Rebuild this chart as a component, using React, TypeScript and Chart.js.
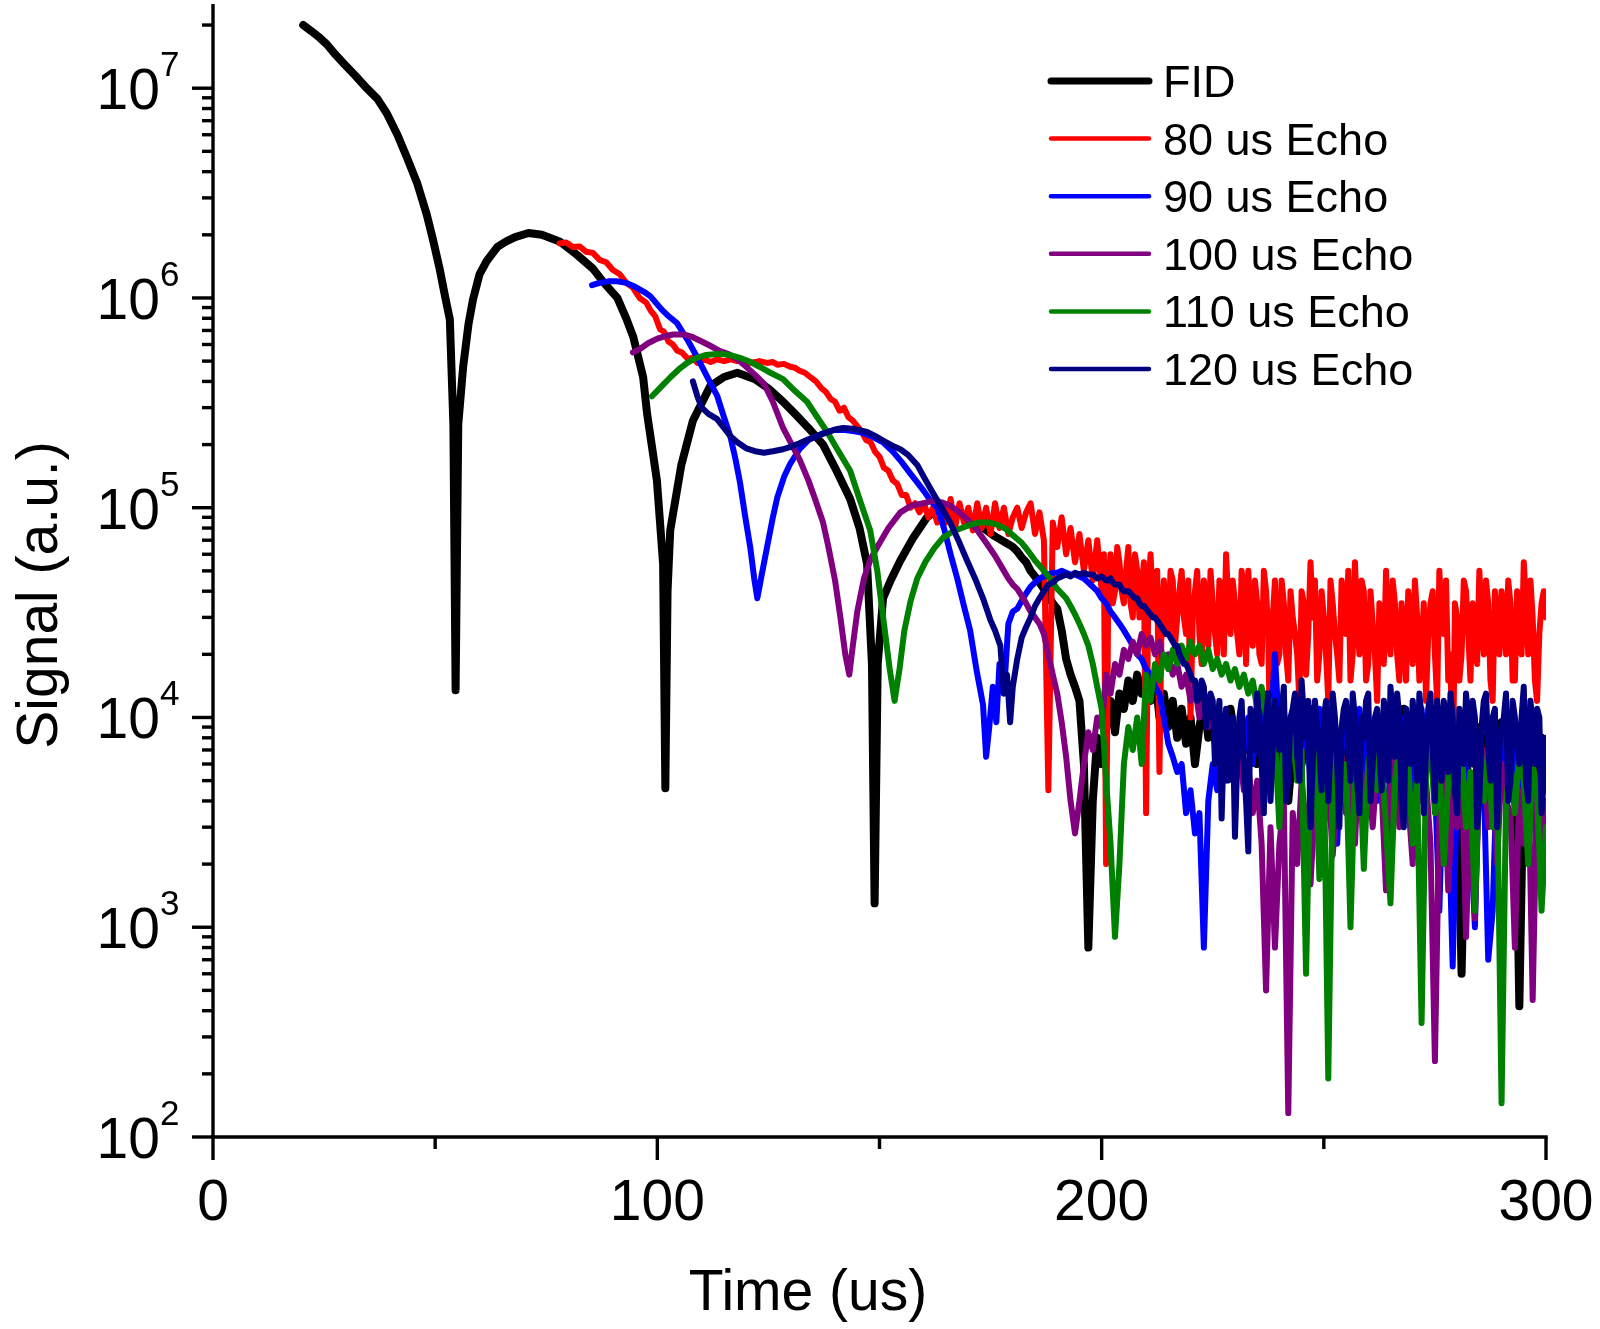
import React, { useEffect, useRef } from "react";
import { Chart, registerables } from "chart.js";

Chart.register(...registerables);

const W = 1600;
const H = 1329;
const FONT = '"Liberation Sans", Arial, Helvetica, sans-serif';

// ---------- labels / ticks ----------
const SERIES_NAMES = ["FID", "80 us Echo", "90 us Echo", "100 us Echo", "110 us Echo", "120 us Echo"];
const SERIES_COLORS = ["#000000", "#ff0000", "#0000ff", "#800080", "#008000", "#000080"];
const SERIES_WIDTHS = [8, 6, 6, 6, 6, 6];
const X_TICKS = [0, 100, 200, 300];
const X_MINOR = [50, 150, 250];
const Y_DECADES = [2, 3, 4, 5, 6, 7];
const X_MIN = 0;
const X_MAX = 300;
const Y_MIN = 100;
const Y_MAX = 2.52e7;
const X_TITLE = "Time (us)";
const Y_TITLE = "Signal (a.u.)";

// ---------- shared time bases for the noisy tails (us) ----------
const TAIL_T = [
  180, 181, 182, 183, 184, 185, 186, 187, 188, 189,
  190, 191, 192, 193, 194, 195, 196, 197, 198, 199,
  200, 201, 202, 203, 204, 205, 206, 207, 208, 209,
  210, 211, 212, 213, 214, 215, 216, 217, 218, 219,
  220, 221, 222, 223, 224, 225, 226, 227, 228, 229,
  230, 231, 232, 233, 234, 235, 236, 237, 238, 239,
  240, 241, 242, 243, 244, 245, 246, 247, 248, 249,
  250, 251, 252, 253, 254, 255, 256, 257, 258, 259,
  260, 261, 262, 263, 264, 265, 266, 267, 268, 269,
  270, 271, 272, 273, 274, 275, 276, 277, 278, 279,
  280, 281, 282, 283, 284, 285, 286, 287, 288, 289,
  290, 291, 292, 293, 294, 295, 296, 297, 298, 299,
  300,
];
const HALF_T = [
  200.5, 201.5, 202.5, 203.5, 204.5, 205.5, 206.5, 207.5, 208.5, 209.5,
  210.5, 211.5, 212.5, 213.5, 214.5, 215.5, 216.5, 217.5, 218.5, 219.5,
  220.5, 221.5, 222.5, 223.5, 224.5, 225.5, 226.5, 227.5, 228.5, 229.5,
  230.5, 231.5, 232.5, 233.5, 234.5, 235.5, 236.5, 237.5, 238.5, 239.5,
  240.5, 241.5, 242.5, 243.5, 244.5, 245.5, 246.5, 247.5, 248.5, 249.5,
  250.5, 251.5, 252.5, 253.5, 254.5, 255.5, 256.5, 257.5, 258.5, 259.5,
  260.5, 261.5, 262.5, 263.5, 264.5, 265.5, 266.5, 267.5, 268.5, 269.5,
  270.5, 271.5, 272.5, 273.5, 274.5, 275.5, 276.5, 277.5, 278.5, 279.5,
  280.5, 281.5, 282.5, 283.5, 284.5, 285.5, 286.5, 287.5, 288.5, 289.5,
  290.5, 291.5, 292.5, 293.5, 294.5, 295.5, 296.5, 297.5, 298.5, 299.5,
];

// ---------- FID ----------
const FID_HEAD = [
  [20.3, 2.0e7], [22, 1.88e7], [24, 1.74e7], [25.6, 1.62e7], [27.5, 1.45e7], [29.3, 1.32e7],
  [32, 1.15e7], [34.6, 1.0e7], [37, 8.9e6], [39.1, 7.6e6], [41.5, 6.0e6], [43.6, 4.7e6],
  [46, 3.5e6], [48.1, 2.5e6], [49.5, 1.9e6], [51, 1.38e6], [52.3, 1.0e6], [53.3, 7.9e5],
  [54.1, 2.5e5], [54.6, 1.35e4], [55.2, 2.5e5], [56.3, 4.7e5], [57.5, 7.5e5], [58.5, 9.8e5],
  [60, 1.3e6], [61.6, 1.5e6], [64, 1.75e6], [66, 1.86e6], [68, 1.95e6], [71, 2.04e6],
  [74, 2.0e6], [78, 1.86e6], [82, 1.6e6], [85.5, 1.38e6], [88, 1.18e6], [91, 1.0e6],
  [93, 8.0e5], [94.6, 6.5e5], [96.8, 4.2e5], [97.7, 2.8e5], [98.8, 1.95e5], [99.9, 1.35e5],
  [101.3, 5.4e4], [101.8, 4.6e3], [102.3, 4.0e4], [102.9, 7.8e4], [105.4, 1.6e5], [108, 2.6e5],
  [111.9, 3.8e5], [115, 4.2e5], [118, 4.4e5], [122, 4.1e5], [125, 3.7e5], [128.3, 3.2e5],
  [131, 2.8e5], [134, 2.4e5], [137.3, 2.0e5], [140, 1.55e5], [143.4, 1.1e5], [145.5, 8.0e4],
  [147.2, 5.4e4], [148.3, 1.8e4], [148.9, 1.3e3], [149.6, 1.8e4], [150.8, 3.7e4], [152.5, 4.5e4],
  [154.7, 5.6e4], [157.6, 7.2e4], [160.7, 9.0e4], [163, 9.8e4], [166, 9.7e4], [169, 9.2e4],
  [172, 8.4e4], [176, 7.3e4], [179, 6.7e4],
];
const FID_TAIL = [
  6.5e4, 6.2e4, 5.8e4, 5.5e4, 5.0e4, 4.7e4, 4.4e4, 4.1e4, 3.8e4, 3.5e4,
  3.3e4, 2.6e4, 1.9e4, 1.6e4, 1.4e4, 1.2e4, 6.0e3, 8.0e2, 4.0e3, 8.0e3,
  6.0e3, 9.0e3, 1.2e4, 8.5e3, 1.3e4, 1.1e4, 1.5e4, 1.2e4, 1.6e4, 1.3e4,
  1.5e4, 1.2e4, 1.6e4, 1.0e4, 1.3e4, 9.0e3, 1.2e4, 8.0e3, 1.1e4, 7.5e3,
  1.0e4, 6.0e3, 9.0e3, 1.2e4, 8.0e3, 1.0e4, 6.5e3, 9.5e3, 7.0e3, 1.1e4,
  8.0e3, 6.0e3, 9.0e3, 7.0e3, 1.0e4, 6.0e3, 8.5e3, 5.0e3, 7.5e3, 9.0e3,
  6.0e3, 8.0e3, 4.0e3, 7.0e3, 9.5e3, 6.0e3, 8.0e3, 1.1e4, 7.0e3, 5.5e3,
  9.0e3, 7.0e3, 1.0e4, 6.0e3, 8.0e3, 5.0e3, 7.5e3, 9.0e3, 6.5e3, 1.0e4,
  7.0e3, 5.5e3, 8.5e3, 6.0e3, 9.5e3, 7.0e3, 5.0e3, 8.0e3, 1.1e4, 7.0e3,
  9.0e3, 6.0e3, 8.0e3, 1.0e4, 7.0e3, 5.0e3, 8.5e3, 6.0e3, 9.0e3, 2.2e3,
  6.5e3, 6.0e2, 5.0e3, 8.0e3, 6.0e3, 9.0e3, 7.0e3, 5.5e3, 8.0e3, 6.0e3,
  9.5e3, 7.0e3, 5.0e3, 8.0e3, 4.2e2, 6.0e3, 1.0e4, 7.0e3, 5.0e3, 8.0e3,
  6.0e3,
];

// ---------- 80 us Echo ----------
const E80_HEAD = [
  [78, 1.82e6], [79.5, 1.84e6], [81, 1.75e6], [82.5, 1.76e6], [84, 1.66e6], [85.5, 1.64e6],
  [87, 1.52e6], [88.5, 1.48e6], [90, 1.36e6], [91.5, 1.3e6], [93, 1.18e6], [94.5, 1.12e6],
  [96, 1.0e6], [97.5, 9.5e5], [98.5, 8.7e5], [99.5, 8.2e5], [100.6, 7.1e5], [101.5, 6.9e5],
  [102.5, 6.2e5], [103.5, 6.0e5], [104.5, 5.6e5], [105.5, 5.5e5], [107, 5.1e5], [108, 5.2e5],
  [109, 4.9e5], [110.5, 5.1e5], [112, 4.95e5], [113.5, 5.1e5], [115, 5.0e5], [116.5, 5.1e5],
  [118, 5.0e5], [119.5, 5.05e5], [121, 4.9e5], [123, 5.0e5], [124.7, 4.9e5], [126, 4.95e5],
  [127, 4.8e5], [128.5, 4.85e5], [129.9, 4.7e5], [131, 4.65e5], [132, 4.5e5], [133.2, 4.4e5],
  [134.4, 4.2e5], [135.7, 4.0e5], [137, 3.7e5], [138, 3.55e5], [139, 3.3e5],
  [140, 3.2e5], [141, 2.9e5], [142, 3.0e5], [143, 2.7e5], [144, 2.6e5], [145, 2.45e5],
  [146, 2.3e5], [147, 2.1e5], [148, 2.05e5], [149, 1.85e5], [150, 1.75e5], [151, 1.55e5],
  [152, 1.5e5], [153, 1.35e5], [154, 1.3e5], [155, 1.15e5], [156, 1.15e5], [157, 1.0e5],
  [158, 1.05e5], [159, 9.5e4], [160, 1.05e5], [161, 9.0e4], [162, 1.0e5], [163, 8.5e4],
  [164, 1.05e5], [165, 8.5e4], [166, 1.1e5], [167, 8.0e4], [168, 1.05e5], [169, 8.5e4],
  [170, 1.0e5], [171, 7.8e4], [172, 1.05e5], [173, 8.0e4], [174, 1.0e5], [175, 7.5e4],
  [176, 1.05e5], [177, 8.0e4], [178, 1.0e5], [179, 7.5e4],
];
const E80_TAIL = [
  9.0e4, 1.0e5, 8.0e4, 9.5e4, 1.05e5, 7.5e4, 9.5e4, 7.0e4, 4.5e3, 8.5e4,
  6.5e4, 9.0e4, 6.0e4, 8.0e4, 5.5e4, 7.5e4, 5.0e4, 7.0e4, 4.5e4, 7.0e4,
  4.0e4, 2.0e3, 6.0e4, 4.0e4, 5.5e4, 3.5e4, 6.5e4, 3.0e4, 5.0e4, 4.0e4,
  3.5e3, 6.0e4, 3.0e4, 5.5e3, 4.5e4, 2.5e4, 4.5e4, 3.0e4, 5.0e4, 2.5e4,
  1.0e4, 4.0e4, 2.5e4, 4.5e4, 2.2e4, 3.5e4, 2.0e4, 4.0e4, 6.0e4, 2.5e4,
  3.5e4, 2.0e4, 4.0e4, 5.0e4, 2.2e4, 3.5e4, 1.8e4, 4.0e4, 5.0e3, 4.5e4,
  2.0e4, 3.5e4, 1.5e4, 3.0e4, 2.0e4, 4.0e4, 1.6e4, 5.5e4, 4.5e4, 2.0e4,
  3.0e4, 1.2e4, 3.5e4, 2.0e4, 4.5e4, 2.5e4, 1.5e4, 5.5e4, 2.0e4, 4.0e4,
  1.8e4, 2.8e4, 1.2e4, 3.0e4, 5.0e4, 2.0e4, 3.5e4, 1.5e4, 2.5e4, 4.0e4,
  1.8e4, 3.0e4, 2.2e4, 1.2e4, 3.5e4, 2.0e4, 5.0e4, 2.5e4, 1.5e4, 4.0e3,
  3.0e4, 2.0e4, 4.0e4, 1.5e4, 3.0e4, 5.0e4, 2.0e4, 3.5e4, 1.2e4, 3.0e4,
  4.0e4, 2.0e4, 3.5e4, 1.5e4, 2.5e4, 5.5e4, 2.0e4, 3.0e4, 1.2e4, 3.5e4,
  3.0e4,
];
const E80_HALF = [
  6.0e4, 4.5e4, 3.5e4, 6.5e4, 4.0e4, 5.0e4, 3.5e4, 6.0e4, 3.0e4, 5.5e4,
  4.0e4, 3.5e4, 5.0e4, 3.0e4, 2.5e4, 5.0e4, 2.2e4, 4.0e4, 3.0e4, 4.5e4,
  3.0e4, 5.0e4, 1.8e4, 3.5e4, 5.0e4, 2.5e4, 4.5e4, 2.0e4, 3.5e4, 4.5e4,
  2.5e4, 5.0e4, 1.8e4, 3.0e4, 4.5e4, 2.0e4, 5.0e4, 2.5e4, 3.0e4, 1.8e4,
  4.5e4, 2.0e4, 4.0e4, 2.5e4, 1.2e4, 3.5e4, 2.5e4, 3.0e4, 1.5e4, 4.0e4,
  2.0e4, 4.5e4, 2.5e4, 1.5e4, 3.5e4, 5.0e4, 2.0e4, 3.0e4, 4.5e4, 1.5e4,
  4.0e4, 2.0e4, 3.5e4, 1.8e4, 2.5e4, 4.5e4, 2.0e4, 3.5e4, 1.5e4, 3.0e4,
  4.5e4, 1.5e4, 3.5e4, 2.5e4, 4.0e4, 1.2e4, 3.0e4, 4.5e4, 2.0e4, 3.5e4,
  1.5e4, 4.5e4, 2.5e4, 3.5e4, 1.8e4, 3.0e4, 4.5e4, 1.5e4, 4.0e4, 2.0e4,
  3.0e4, 4.5e4, 1.5e4, 4.0e4, 2.0e4, 3.5e4, 4.5e4, 1.5e4, 2.5e4, 4.0e4,
];

// ---------- 90 us Echo ----------
const E90_HEAD = [
  [85.3, 1.15e6], [87, 1.18e6], [89, 1.2e6], [91, 1.2e6], [93, 1.18e6], [95, 1.13e6],
  [97, 1.07e6], [98.4, 1.02e6], [101, 8.8e5], [102.5, 8.2e5], [104.4, 7.6e5], [107, 6.2e5],
  [109, 5.2e5], [111, 4.3e5], [113.5, 3.4e5], [115, 2.7e5], [116.4, 2.2e5], [117.6, 1.7e5],
  [118.6, 1.32e5], [119.8, 9.0e4], [120.9, 6.5e4], [121.8, 4.6e4], [122.5, 3.7e4], [123.5, 4.8e4],
  [124.7, 6.5e4], [126, 9.0e4], [127, 1.12e5], [128.5, 1.4e5], [129.9, 1.62e5], [132, 1.9e5],
  [134, 2.1e5], [136, 2.2e5], [138, 2.3e5], [140, 2.35e5], [141.8, 2.35e5], [144, 2.32e5],
  [146, 2.28e5], [148, 2.2e5], [150.8, 2.05e5], [153, 1.85e5], [155, 1.65e5], [157, 1.45e5],
  [158.5, 1.32e5], [160, 1.2e5], [161.5, 1.08e5], [163, 1.0e5], [164.5, 8.0e4], [166, 6.0e4],
  [167.5, 4.6e4], [169, 3.4e4], [170.4, 2.6e4], [171.8, 1.7e4], [173.3, 1.15e4], [174, 6.5e3],
  [174.7, 9.0e3], [175.5, 1.4e4], [176.3, 9.5e3], [177, 1.8e4], [178, 1.3e4], [179, 2.8e4],
];
const E90_TAIL = [
  3.2e4, 3.3e4, 3.6e4, 3.9e4, 4.2e4, 4.4e4, 4.6e4, 4.7e4, 4.8e4, 4.9e4,
  4.9e4, 5.0e4, 4.9e4, 4.8e4, 4.8e4, 4.7e4, 4.6e4, 4.4e4, 4.2e4, 4.0e4,
  3.7e4, 3.5e4, 3.2e4, 3.0e4, 2.8e4, 2.6e4, 2.4e4, 2.2e4, 2.0e4, 1.9e4,
  1.7e4, 1.6e4, 1.4e4, 1.3e4, 1.0e4, 7.5e3, 6.5e3, 5.5e3, 6.0e3, 3.5e3,
  4.5e3, 2.8e3, 3.5e3, 8.0e2, 4.0e3, 6.0e3, 4.5e3, 7.5e3, 5.0e3, 8.0e3,
  6.0e3, 9.0e3, 7.0e3, 1.0e4, 6.0e3, 1.1e4, 8.0e3, 1.3e4, 9.0e3, 2.0e4,
  8.0e3, 1.1e4, 6.0e3, 9.0e3, 1.2e4, 7.0e3, 1.0e4, 5.0e3, 8.0e3, 1.1e4,
  6.0e3, 9.0e3, 4.5e3, 2.5e3, 7.0e3, 1.0e4, 6.0e3, 8.0e3, 1.1e4, 5.0e3,
  9.0e3, 7.0e3, 4.0e3, 8.0e3, 1.9e3, 6.0e3, 9.0e3, 5.0e3, 1.0e4, 7.0e3,
  4.5e3, 8.0e3, 1.1e4, 6.0e3, 9.0e3, 5.0e3, 1.2e3, 7.0e3, 4.0e3, 6.5e2,
  5.0e3, 8.0e3, 6.0e3, 3.0e3, 1.0e3, 7.0e3, 5.0e3, 7.0e2, 1.2e3, 6.0e3,
  8.0e3, 4.0e3, 9.0e3, 6.0e3, 3.5e3, 7.0e3, 9.0e3, 5.0e3, 2.0e3, 7.0e3,
  4.5e3,
];

// ---------- 100 us Echo ----------
const E100_HEAD = [
  [94.5, 5.5e5], [96, 5.7e5], [98, 6.1e5], [100, 6.4e5], [102, 6.6e5], [103.6, 6.7e5],
  [106, 6.7e5], [108, 6.5e5], [110, 6.2e5], [112, 5.9e5], [114, 5.6e5], [116, 5.4e5],
  [118, 5.1e5], [120, 4.7e5], [122, 4.3e5], [124, 3.9e5], [126, 3.2e5], [128.3, 2.4e5],
  [130, 2.05e5], [132, 1.7e5], [134, 1.35e5], [135.5, 1.1e5], [137.3, 8.5e4], [138.5, 6.5e4],
  [140, 4.5e4], [141.2, 3.0e4], [142.3, 2.0e4], [143.2, 1.6e4], [144, 2.2e4], [145, 3.2e4],
  [146.5, 4.6e4], [148, 5.7e4], [149.5, 6.5e4], [152, 8.0e4], [154.7, 9.5e4], [157, 1.02e5],
  [159.9, 1.05e5], [162, 1.08e5], [164, 1.06e5], [166, 1.02e5], [168, 9.5e4], [170, 8.7e4],
  [172, 7.8e4], [174, 6.8e4], [176, 5.9e4], [178, 5.0e4], [179, 4.6e4],
];
const E100_TAIL = [
  4.3e4, 4.1e4, 3.8e4, 3.5e4, 3.2e4, 3.0e4, 2.8e4, 2.5e4, 2.0e4, 1.6e4,
  1.3e4, 9.5e3, 6.5e3, 4.0e3, 2.8e3, 4.0e3, 6.0e3, 8.5e3, 7.0e3, 1.0e4,
  9.0e3, 1.6e4, 1.3e4, 1.8e4, 1.6e4, 2.1e4, 1.9e4, 2.3e4, 2.0e4, 2.5e4,
  2.2e4, 2.4e4, 2.0e4, 2.3e4, 1.8e4, 2.0e4, 1.6e4, 1.8e4, 1.4e4, 1.6e4,
  1.2e4, 1.4e4, 1.0e4, 1.2e4, 9.0e3, 1.1e4, 8.0e3, 1.0e4, 7.0e3, 8.5e3,
  6.0e3, 7.0e3, 4.5e3, 6.0e3, 3.5e3, 5.0e3, 2.5e3, 5.0e2, 3.0e3, 8.0e2,
  2.5e3, 4.0e3, 1.3e2, 3.5e3, 2.0e3, 5.0e3, 3.0e3, 1.6e3, 4.0e3, 6.0e3,
  3.0e3, 5.0e3, 2.2e3, 4.5e3, 6.5e3, 3.5e3, 5.0e3, 2.5e3, 7.0e3, 4.0e3,
  5.5e3, 3.0e3, 6.0e3, 4.5e3, 1.5e3, 5.0e3, 7.0e3, 3.0e3, 5.5e3, 4.0e3,
  2.0e3, 6.0e3, 4.0e3, 5.0e3, 2.5e3, 2.3e2, 3.5e3, 6.0e3, 1.5e3, 4.5e3,
  3.0e3, 6.5e3, 9.0e2, 4.0e3, 1.1e3, 5.0e3, 7.0e3, 3.0e3, 5.0e3, 2.0e3,
  6.0e3, 4.0e3, 3.5e3, 8.0e2, 4.5e3, 2.5e3, 6.0e3, 4.5e2, 5.0e3, 2.0e3,
  4.0e3,
];

// ---------- 110 us Echo ----------
const E110_HEAD = [
  [98.8, 3.4e5], [101, 3.8e5], [103, 4.2e5], [105, 4.6e5], [107, 4.95e5], [109, 5.2e5],
  [111, 5.35e5], [113.4, 5.4e5], [115, 5.4e5], [117, 5.3e5], [119, 5.15e5], [121, 4.95e5],
  [123, 4.7e5], [125, 4.45e5], [128.3, 4.1e5], [131, 3.6e5], [133.7, 3.2e5], [136, 2.7e5],
  [138.2, 2.3e5], [140.5, 1.9e5], [143.4, 1.5e5], [145.5, 1.1e5], [147.9, 7.8e4], [149.5, 5.0e4],
  [151, 2.8e4], [152.3, 1.7e4], [153.4, 1.2e4], [154.5, 1.7e4], [155.6, 2.6e4], [157, 3.6e4],
  [158.5, 4.6e4], [160.3, 5.5e4], [162.3, 6.4e4], [164.3, 7.2e4], [166.5, 7.7e4], [168.5, 8.0e4],
  [170.5, 8.3e4], [172.5, 8.5e4], [174.5, 8.5e4], [176.5, 8.3e4], [178.5, 7.9e4],
];
const E110_TAIL = [
  7.4e4, 7.1e4, 6.8e4, 6.4e4, 6.0e4, 5.6e4, 5.3e4, 5.0e4, 4.7e4, 4.4e4,
  4.1e4, 3.9e4, 3.7e4, 3.4e4, 3.1e4, 2.8e4, 2.5e4, 2.2e4, 1.8e4, 1.4e4,
  1.1e4, 5.0e3, 2.5e3, 9.0e2, 2.0e3, 6.0e3, 9.0e3, 7.0e3, 1.0e4, 6.0e3,
  1.6e4, 1.2e4, 1.8e4, 1.5e4, 2.0e4, 1.7e4, 2.1e4, 1.8e4, 2.2e4, 1.9e4,
  2.3e4, 2.0e4, 2.2e4, 1.8e4, 2.1e4, 1.7e4, 1.9e4, 1.6e4, 1.8e4, 1.5e4,
  1.7e4, 1.4e4, 1.6e4, 1.3e4, 1.5e4, 1.1e4, 1.4e4, 1.0e4, 1.2e4, 8.0e3,
  3.0e3, 9.0e3, 6.0e3, 8.0e3, 5.0e3, 7.0e3, 6.0e2, 6.5e3, 8.0e3, 1.7e3,
  6.5e3, 1.9e2, 5.0e3, 7.5e3, 4.0e3, 6.0e3, 1.0e3, 5.5e3, 7.0e3, 1.9e3,
  6.0e3, 8.0e3, 4.5e3, 6.5e3, 3.0e3, 1.3e3, 5.0e3, 7.0e3, 4.0e3, 6.0e3,
  2.5e3, 5.0e3, 3.5e2, 5.5e3, 7.5e3, 3.5e3, 6.0e3, 2.0e3, 5.0e3, 6.5e3,
  4.0e3, 7.0e3, 3.0e3, 5.5e3, 1.2e3, 6.0e3, 4.0e3, 7.0e3, 3.0e3, 5.0e3,
  1.45e2, 4.0e3, 6.0e3, 3.5e3, 7.0e3, 5.0e3, 2.0e3, 6.0e3, 4.5e3, 1.2e3,
  3.0e3,
];

// ---------- 120 us Echo ----------
const E120_HEAD = [
  [108, 4.0e5], [109, 3.4e5], [110, 3.0e5], [111.5, 2.8e5], [113.4, 2.65e5], [115, 2.4e5],
  [116.4, 2.2e5], [118, 2.05e5], [120, 1.92e5], [122, 1.86e5], [124, 1.83e5], [126, 1.86e5],
  [128.3, 1.9e5], [130, 1.95e5], [132, 2.03e5], [134, 2.12e5], [136, 2.2e5], [138, 2.28e5],
  [140, 2.36e5], [141.8, 2.4e5], [144, 2.38e5], [146, 2.33e5], [147.2, 2.3e5], [149, 2.2e5],
  [151, 2.08e5], [153, 1.97e5], [154.7, 1.9e5], [156.5, 1.78e5], [158.5, 1.6e5], [160, 1.4e5],
  [162.1, 1.17e5], [164, 1.0e5], [165.9, 8.5e4], [168, 6.8e4], [169.7, 5.6e4], [171.5, 4.6e4],
  [173.3, 3.7e4], [175, 2.9e4], [176, 2.6e4], [177.2, 2.2e4], [178, 1.3e4], [178.7, 1.6e4],
  [179.4, 9.5e3],
];
const E120_TAIL = [
  1.4e4, 1.9e4, 2.4e4, 2.7e4, 3.0e4, 3.4e4, 3.7e4, 4.0e4, 4.3e4, 4.4e4,
  4.6e4, 4.7e4, 4.8e4, 4.7e4, 4.9e4, 4.8e4, 4.9e4, 4.8e4, 4.8e4, 4.6e4,
  4.7e4, 4.5e4, 4.6e4, 4.3e4, 4.3e4, 4.0e4, 4.0e4, 3.8e4, 3.7e4, 3.4e4,
  3.3e4, 3.1e4, 3.0e4, 2.8e4, 2.6e4, 2.5e4, 2.3e4, 2.2e4, 1.9e4, 1.8e4,
  1.6e4, 1.5e4, 1.3e4, 1.4e4, 1.1e4, 1.2e4, 9.0e3, 3.3e3, 1.1e4, 7.0e3,
  2.7e3, 1.0e4, 6.0e3, 2.3e3, 9.0e3, 1.3e4, 6.0e3, 1.0e4, 4.0e3, 1.2e4,
  7.0e3, 1.4e4, 5.0e3, 1.1e4, 6.5e3, 1.5e4, 8.0e3, 3.0e3, 1.2e4, 7.0e3,
  1.0e4, 4.0e3, 1.3e4, 6.0e3, 9.0e3, 1.2e4, 5.0e3, 1.0e4, 3.5e3, 8.0e3,
  1.3e4, 6.0e3, 1.1e4, 4.5e3, 9.0e3, 1.4e4, 6.5e3, 1.0e4, 3.0e3, 8.0e3,
  1.2e4, 5.0e3, 1.0e4, 7.0e3, 1.3e4, 4.0e3, 9.0e3, 1.2e4, 5.5e3, 1.0e4,
  3.5e3, 8.0e3, 1.3e4, 6.0e3, 1.0e4, 4.0e3, 1.2e4, 7.0e3, 1.0e4, 3.0e3,
  9.0e3, 1.3e4, 5.0e3, 1.0e4, 6.0e3, 1.4e4, 4.0e3, 9.0e3, 1.1e4, 3.5e3,
  8.0e3,
];
const E120_HALF = [
  4.6e4, 4.5e4, 4.4e4, 4.3e4, 4.1e4, 4.0e4, 3.9e4, 3.7e4, 3.5e4, 3.4e4,
  3.2e4, 3.0e4, 2.9e4, 2.7e4, 2.5e4, 2.4e4, 2.2e4, 2.0e4, 1.8e4, 1.7e4,
  1.5e4, 1.2e4, 1.5e4, 9.0e3, 1.3e4, 6.0e3, 1.2e4, 8.0e3, 5.0e3, 1.0e4,
  6.0e3, 1.2e4, 4.0e3, 1.1e4, 7.0e3, 1.0e4, 3.5e3, 1.3e4, 7.0e3, 9.0e3,
  1.1e4, 4.0e3, 1.0e4, 1.3e4, 5.0e3, 1.0e4, 1.2e4, 6.0e3, 9.0e3, 4.5e3,
  1.2e4, 7.0e3, 1.0e4, 3.0e3, 1.1e4, 8.0e3, 1.3e4, 5.0e3, 1.0e4, 1.2e4,
  4.0e3, 1.0e4, 7.0e3, 1.2e4, 5.0e3, 1.0e4, 1.3e4, 4.0e3, 1.1e4, 6.0e3,
  9.0e3, 1.3e4, 3.5e3, 1.1e4, 7.0e3, 1.2e4, 5.0e3, 1.0e4, 1.3e4, 4.5e3,
  1.1e4, 6.0e3, 1.0e4, 1.2e4, 3.0e3, 9.0e3, 1.3e4, 5.0e3, 1.1e4, 7.0e3,
  1.0e4, 4.0e3, 1.2e4, 7.5e3, 1.0e4, 5.0e3, 1.2e4, 6.0e3, 1.0e4, 5.0e3,
];

const HEADS = [FID_HEAD, E80_HEAD, E90_HEAD, E100_HEAD, E110_HEAD, E120_HEAD];
const TAILS = [FID_TAIL, E80_TAIL, E90_TAIL, E100_TAIL, E110_TAIL, E120_TAIL];
const HALVES: (number[] | null)[] = [null, E80_HALF, null, null, null, E120_HALF];

function buildPoints(head: number[][], tail: number[], half: number[] | null) {
  const pts = head.map(([x, y]) => ({ x, y }));
  TAIL_T.forEach((t, i) => {
    if (tail[i] !== undefined) pts.push({ x: t, y: tail[i] });
  });
  if (half) {
    HALF_T.forEach((t, i) => {
      if (half[i] !== undefined) pts.push({ x: t, y: half[i] });
    });
  }
  pts.sort((a, b) => a.x - b.x);
  return pts;
}

// ---------- axes, labels, legend (drawn on the library's scales) ----------
const framePlugin = {
  id: "originFrame",
  afterDatasetsDraw(chart: any) {
    const { ctx, chartArea: a } = chart;
    const xs = chart.scales.x;
    const ys = chart.scales.y;
    ctx.save();
    ctx.strokeStyle = "#000";
    ctx.fillStyle = "#000";
    ctx.lineCap = "butt";
    ctx.lineWidth = 3.4;

    const seg = (x1: number, y1: number, x2: number, y2: number) => {
      ctx.beginPath();
      ctx.moveTo(x1, y1);
      ctx.lineTo(x2, y2);
      ctx.stroke();
    };

    // axis lines
    seg(a.left, a.top, a.left, a.bottom + 1.7);
    seg(a.left - 1.7, a.bottom, a.right + 1.7, a.bottom);

    // x ticks
    X_TICKS.forEach((v) => {
      const px = xs.getPixelForValue(v);
      seg(px, a.bottom, px, a.bottom + 23);
    });
    X_MINOR.forEach((v) => {
      const px = xs.getPixelForValue(v);
      seg(px, a.bottom, px, a.bottom + 12);
    });

    // y ticks
    Y_DECADES.forEach((d) => {
      const py = ys.getPixelForValue(Math.pow(10, d));
      seg(a.left - 21, py, a.left, py);
      for (let m = 2; m <= 9; m++) {
        const v = m * Math.pow(10, d);
        if (v > Y_MAX) break;
        const pm = ys.getPixelForValue(v);
        seg(a.left - 11, pm, a.left, pm);
      }
    });

    // x tick labels
    ctx.font = `57px ${FONT}`;
    ctx.textAlign = "center";
    ctx.textBaseline = "alphabetic";
    X_TICKS.forEach((v) => {
      const px = xs.getPixelForValue(v);
      ctx.fillText(String(v), px, a.bottom + 83);
    });

    // y tick labels 10^n
    Y_DECADES.forEach((d) => {
      const py = ys.getPixelForValue(Math.pow(10, d));
      ctx.font = `57px ${FONT}`;
      ctx.textAlign = "right";
      ctx.fillText("10", 160, py + 21);
      ctx.font = `35px ${FONT}`;
      ctx.textAlign = "left";
      ctx.fillText(String(d), 160, py - 12);
    });

    // axis titles
    ctx.font = `57px ${FONT}`;
    ctx.textAlign = "center";
    ctx.fillText(X_TITLE, 808, 1310);
    ctx.save();
    ctx.translate(57, 595);
    ctx.rotate(-Math.PI / 2);
    ctx.fillText(Y_TITLE, 0, 0);
    ctx.restore();

    // legend
    ctx.lineCap = "round";
    ctx.font = `45px ${FONT}`;
    ctx.textAlign = "left";
    SERIES_NAMES.forEach((name, i) => {
      const y = 81 + i * 57.6;
      ctx.strokeStyle = SERIES_COLORS[i];
      ctx.lineWidth = i === 0 ? 7 : 4.5;
      seg(1051, y, 1149, y);
      ctx.fillStyle = "#000";
      ctx.fillText(name, 1163, y + 16);
    });

    ctx.restore();
  },
};

export default function App() {
  const ref = useRef<HTMLCanvasElement>(null);

  useEffect(() => {
    if (!ref.current) return;
    const datasets = SERIES_NAMES.map((name, i) => ({
      label: name,
      data: buildPoints(HEADS[i], TAILS[i], HALVES[i]),
      borderColor: SERIES_COLORS[i],
      backgroundColor: SERIES_COLORS[i],
      borderWidth: SERIES_WIDTHS[i],
      pointRadius: 0,
      pointHoverRadius: 0,
      fill: false,
      tension: 0,
      borderJoinStyle: "round" as const,
      borderCapStyle: "round" as const,
      order: SERIES_NAMES.length - 1 - i,
    }));

    const chart = new Chart(ref.current, {
      type: "line",
      data: { datasets },
      options: {
        animation: false,
        responsive: false,
        devicePixelRatio: 1,
        events: [],
        layout: { padding: { top: 4, right: 54, left: 0, bottom: 0 } },
        plugins: {
          legend: { display: false },
          tooltip: { enabled: false },
        },
        scales: {
          x: {
            type: "linear",
            min: X_MIN,
            max: X_MAX,
            ticks: { display: false },
            grid: { display: false },
            border: { display: false },
            afterFit: (s: any) => {
              s.height = 192;
            },
          },
          y: {
            type: "logarithmic",
            min: Y_MIN,
            max: Y_MAX,
            ticks: { display: false },
            grid: { display: false },
            border: { display: false },
            afterFit: (s: any) => {
              s.width = 213;
            },
          },
        },
      },
      plugins: [framePlugin],
    });
    return () => chart.destroy();
  }, []);

  return (
    <div style={{ position: "absolute", left: 0, top: 0, width: W, height: H, background: "#fff" }}>
      <canvas ref={ref} width={W} height={H} style={{ width: W, height: H, display: "block" }} />
    </div>
  );
}
